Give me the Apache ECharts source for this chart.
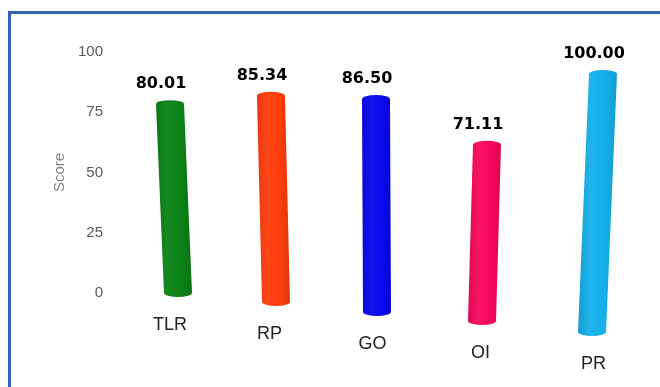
<!DOCTYPE html>
<html>
<head>
<meta charset="utf-8">
<style>
  html, body { margin: 0; padding: 0; background: #ffffff; }
  #chart { width: 660px; height: 387px; }
</style>
<script src="https://cdn.jsdelivr.net/npm/echarts@6/dist/echarts.min.js"></script>
</head>
<body>
<div id="chart"></div>
<script>
// ---- data ----
const categories = ['TLR', 'RP', 'GO', 'OI', 'PR'];
const scores = [80.01, 85.34, 86.50, 71.11, 100.00];
const yMin = 0, yMax = 100, yInterval = 25;
const axisName = 'Score';

// ---- styling / perspective layout (not data) ----
const barColors = ['#0a8215', '#ff3d0d', '#0a08ee', '#f7085c', '#14b0ea'];
const zeroY = [297, 306, 316, 325, 336];
const hundredY = [51, 55, 60.5, 66, 70];
const centerX = [174, 273.5, 376.5, 484.5, 597.5];
const lean = [8, 5, 1, -5, -11];

function shade(hex, f) {
  const n = parseInt(hex.slice(1), 16);
  let r = (n >> 16) & 255, g = (n >> 8) & 255, b = n & 255;
  const m = c => Math.max(0, Math.min(255, Math.round(f >= 0 ? c + (255 - c) * f : c * (1 + f))));
  return 'rgb(' + m(r) + ',' + m(g) + ',' + m(b) + ')';
}

const chart = echarts.init(document.getElementById('chart'), null, { renderer: 'canvas' });

const grids = [], xAxes = [], yAxes = [], series = [];
categories.forEach((cat, i) => {
  grids.push({ left: centerX[i] - 40, width: 80, top: hundredY[i], height: zeroY[i] - hundredY[i] });
  xAxes.push({
    type: 'category', gridIndex: i, data: [cat],
    axisLine: { show: false }, axisTick: { show: false }, splitLine: { show: false },
    axisLabel: { margin: 19, fontSize: 18, color: '#222', fontFamily: 'Liberation Sans, Arial, sans-serif', padding: [0, 8, 0, 0] }
  });
  yAxes.push({ type: 'value', gridIndex: i, min: yMin, max: yMax, show: false });
  const col = barColors[i];
  const L = lean[i];
  series.push({
    type: 'custom', xAxisIndex: i, yAxisIndex: i,
    data: [[0, scores[i]]],
    renderItem: function (params, api) {
      const v = api.value(1);
      const top = api.coord([api.value(0), v]);
      const bot = api.coord([api.value(0), 0]);
      const rx = 14, ry = 4;
      const tx = top[0] - L / 2, bx = bot[0] + L / 2;
      const ty = top[1] + ry, by = bot[1] - ry;
      const d = 'M' + (tx - rx) + ' ' + ty +
        ' A' + rx + ' ' + ry + ' 0 0 1 ' + (tx + rx) + ' ' + ty +
        ' L' + (bx + rx) + ' ' + by +
        ' A' + rx + ' ' + ry + ' 0 0 1 ' + (bx - rx) + ' ' + by + ' Z';
      const fill = {
        type: 'linear', x: 0, y: 0, x2: 1, y2: 0,
        colorStops: [
          { offset: 0, color: shade(col, -0.1) },
          { offset: 0.3, color: shade(col, 0.05) },
          { offset: 0.7, color: col },
          { offset: 1, color: shade(col, -0.12) }
        ]
      };
      return {
        type: 'group',
        children: [
          { type: 'path', shape: { pathData: d }, style: { fill: fill } },
          {
            type: 'text',
            style: {
              text: v.toFixed(2), x: tx - 9, y: top[1] - 16,
              align: 'center', verticalAlign: 'middle',
              font: 'bold 16px "DejaVu Sans", Verdana, sans-serif', fill: '#000'
            }
          }
        ]
      };
    }
  });
});

// visible value axis on its own grid
grids.push({ left: 110, width: 10, top: 52, height: 241 });
xAxes.push({ type: 'category', gridIndex: 5, data: [''], show: false });
yAxes.push({
  type: 'value', gridIndex: 5, min: yMin, max: yMax, interval: yInterval,
  axisLine: { show: false }, axisTick: { show: false }, splitLine: { show: false },
  axisLabel: { margin: 7, fontSize: 15, color: '#5a5a5a', fontFamily: 'Liberation Sans, Arial, sans-serif' },
  name: axisName, nameLocation: 'middle', nameGap: 43,
  nameTextStyle: { fontSize: 15, color: '#808080', fontFamily: 'Liberation Sans, Arial, sans-serif' }
});

chart.setOption({
  animation: false,
  backgroundColor: '#ffffff',
  grid: grids, xAxis: xAxes, yAxis: yAxes, series: series,
  graphic: [
    { type: 'rect', shape: { x: 8, y: 11, width: 652, height: 3 }, style: { fill: '#3461b3' } },
    { type: 'rect', shape: { x: 8, y: 11, width: 3, height: 376 }, style: { fill: '#3461b3' } }
  ]
});
</script>
</body>
</html>
